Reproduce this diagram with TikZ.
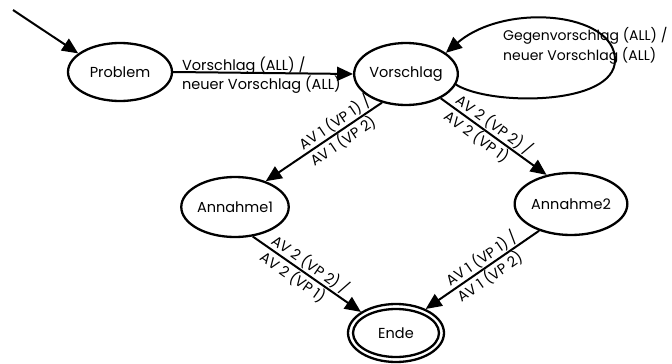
\documentclass[tikz,border=0pt]{standalone}
\usepackage{fontspec}
\setmainfont{Poppins}
\usetikzlibrary{arrows.meta,shapes.geometric}
\begin{document}
\begin{tikzpicture}[x=1pt,y=-1pt,
  txt/.style={font=\fontsize{14.5}{16}\selectfont},
  state/.style={ellipse,draw,line width=2.3pt,inner sep=0pt,txt},
  edge/.style={line width=2pt,-{Triangle[length=16pt,width=14pt]}},
  lbl/.style={font=\fontsize{14.5}{17}\selectfont,align=left,inner sep=0pt},
  lbls/.style={font=\fontsize{14.5}{20}\selectfont,align=left,inner sep=0pt,sloped}]
\useasboundingbox (0,0) rectangle (672,364);
\node[state,minimum width=104pt,minimum height=58pt] (prob) at (120,72) {Problem};
\node[state,minimum width=102pt,minimum height=62pt] (vor) at (406,74) {Vorschlag};
\node[state,minimum width=104pt,minimum height=60pt] (a1) at (235,207) {Annahme1};
\node[state,minimum width=106pt,minimum height=62pt] (a2) at (571,204) {Annahme2};
\node[state,minimum width=96pt,minimum height=58pt] (ende) at (396,333) {Ende};
\draw[line width=2.3pt] (ende.center) ellipse [x radius=43pt, y radius=24pt];
\coordinate (start) at (13,10);
\draw[edge] (start) -- (prob.156);
\draw[edge] (prob.0) -- node[lbl,pos=0,anchor=north west,xshift=8pt,yshift=16pt]{Vorschlag (ALL) /\\neuer Vorschlag (ALL)} (vor.180);
\draw[edge] (vor.-12) .. controls (490,106) and (615,106) .. (615,60) .. controls (615,12) and (505,2) .. (vor.28);
\node[font=\fontsize{14}{20}\selectfont,align=left,inner sep=0pt,anchor=north west] (looplbl) at (503,27) {Gegenvorschlag (ALL) /\\neuer Vorschlag (ALL)};
\draw[edge] (vor.230) -- node[lbls,pos=0.36]{AV 1 (VP 1) /\\AV 1 (VP 2)} (a1.40);
\draw[edge] (vor.-35) -- node[lbls,pos=0.45]{AV 2 (VP 2) /\\AV 2 (VP 1)} (a2.130);
\draw[edge] (a1.-59) -- node[lbls,pos=0.48]{AV 2 (VP 2) /\\AV 2 (VP 1)} (ende.149);
\draw[edge] (a2.220) -- node[lbls,pos=0.46]{AV 1 (VP 1) /\\AV 1 (VP 2)} (ende.39);
\end{tikzpicture}
\end{document}
